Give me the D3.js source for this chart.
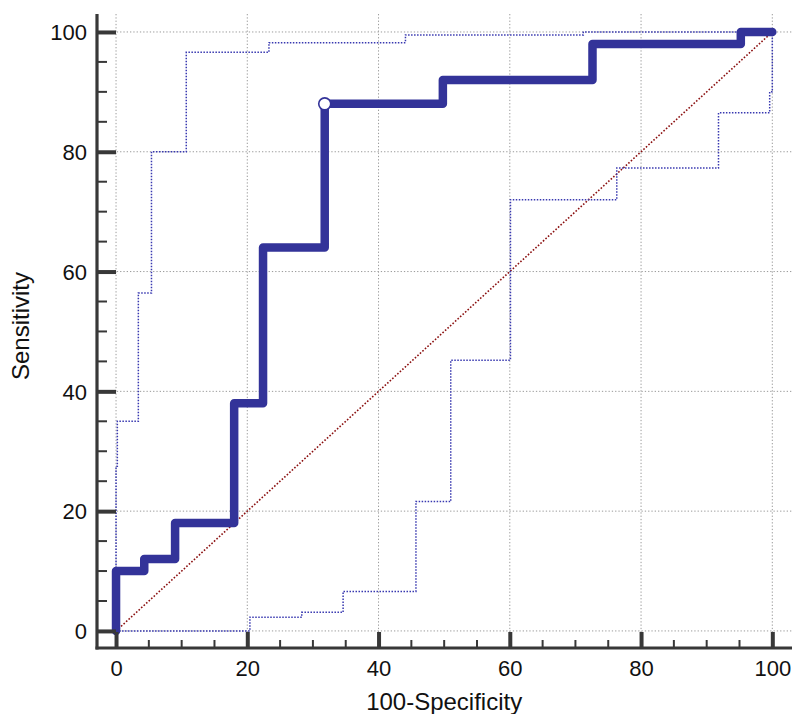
<!DOCTYPE html>
<html>
<head>
<meta charset="utf-8">
<script src="https://cdn.jsdelivr.net/npm/d3@7"></script>
<style>
  body { margin: 0; background: #fff; }
  text { font-family: "Liberation Sans", Arial, sans-serif; fill: #111; }
</style>
</head>
<body>
<svg id="svg1" width="795" height="714"></svg>
<script>
// ROC curve vertices (100-Specificity, Sensitivity), drawn as step-before
const rocX = [0, 4.3, 9.0, 18.0, 22.4, 31.8, 49.8, 72.6, 95.2, 100];
const rocY = [0, 10, 12, 18, 38, 64, 88, 92, 98, 100];

// upper confidence bound (step-before)
const upperX = [0, 0.2, 3.4, 5.4, 10.7, 23.3, 44.1, 71.2, 100];
const upperY = [0, 27.5, 35, 56.4, 80, 96.6, 98.2, 99.5, 100];

// lower confidence bound (step-after)
const lowerX = [0, 20.4, 28.3, 34.6, 45.7, 51.0, 60.1, 76.3, 91.8, 99.6, 100];
const lowerY = [0, 2.3, 3.1, 6.6, 21.6, 45.2, 72.0, 77.3, 86.5, 90, 100];

// optimal criterion point
const critX = [31.8];
const critY = [88];

const majorTicks = [0, 20, 40, 60, 80, 100];
const minorTicks = [5, 10, 15, 25, 30, 35, 45, 50, 55, 65, 70, 75, 85, 90, 95];

const xTitle = '100-Specificity';
const yTitle = 'Sensitivity';

const svg1 = d3.select('#svg1');

const xScale = d3.scaleLinear().domain([-2.9, 103]).range([97, 792]);
const yScale = d3.scaleLinear().domain([-2.85, 103]).range([648, 14]);

const zip = (xs, ys) => xs.map((x, i) => [x, ys[i]]);

/* grid */
const grid = svg1.append('g');
grid.selectAll('.gx').data(majorTicks).enter().append('line')
  .attr('x1', d => xScale(d)).attr('x2', d => xScale(d))
  .attr('y1', yScale.range()[1]).attr('y2', yScale.range()[0])
  .attr('stroke', '#9a9a9a').attr('stroke-width', 1).attr('stroke-dasharray', '1.3,2');
grid.selectAll('.gy').data(majorTicks).enter().append('line')
  .attr('y1', d => yScale(d)).attr('y2', d => yScale(d))
  .attr('x1', xScale.range()[0]).attr('x2', xScale.range()[1])
  .attr('stroke', '#9a9a9a').attr('stroke-width', 1).attr('stroke-dasharray', '1.3,2');

/* diagonal reference line */
svg1.append('line')
  .attr('x1', xScale(0)).attr('y1', yScale(0))
  .attr('x2', xScale(100)).attr('y2', yScale(100))
  .attr('stroke', '#8b1010').attr('stroke-width', 1.6).attr('stroke-dasharray', '1.6,1.8');

/* confidence bounds */
const lineBefore = d3.line().x(d => xScale(d[0])).y(d => yScale(d[1])).curve(d3.curveStepBefore);
const lineAfter = d3.line().x(d => xScale(d[0])).y(d => yScale(d[1])).curve(d3.curveStepAfter);

svg1.append('path').datum(zip(upperX, upperY))
  .attr('d', lineBefore).attr('fill', 'none')
  .attr('stroke', '#3838b0').attr('stroke-width', 1.5).attr('stroke-dasharray', '1.5,1.5');
svg1.append('path').datum(zip(lowerX, lowerY))
  .attr('d', lineAfter).attr('fill', 'none')
  .attr('stroke', '#3838b0').attr('stroke-width', 1.5).attr('stroke-dasharray', '1.5,1.5');

/* ROC curve */
svg1.append('path').datum(zip(rocX, rocY))
  .attr('d', lineBefore).attr('fill', 'none')
  .attr('stroke', '#333399').attr('stroke-width', 8.5)
  .attr('stroke-linejoin', 'round').attr('stroke-linecap', 'round');

svg1.selectAll('circle').data(zip(critX, critY)).enter().append('circle')
  .attr('cx', d => xScale(d[0])).attr('cy', d => yScale(d[1]))
  .attr('r', 6).attr('fill', '#fff').attr('stroke', '#333399').attr('stroke-width', 1.6);

/* axes: ticks point inward */
const axisColor = '#383838';
const xAxis = d3.axisBottom(xScale).tickValues(majorTicks).tickSize(-16).tickPadding(28);
const xAxisG = svg1.append('g').attr('transform', `translate(0, ${yScale.range()[0]})`).call(xAxis);
const yAxis = d3.axisLeft(yScale).tickValues(majorTicks).tickSize(-19).tickPadding(29);
const yAxisG = svg1.append('g').attr('transform', `translate(${xScale.range()[0]}, 0)`).call(yAxis);

[xAxisG, yAxisG].forEach(g => {
  g.select('.domain').remove();
  g.selectAll('.tick line').attr('stroke', axisColor).attr('stroke-width', 4);
  g.selectAll('.tick text').attr('font-size', 22).attr('font-family', '"Liberation Sans", Arial, sans-serif').attr('fill', '#111');
});
yAxisG.selectAll('.tick text').attr('x', -10).attr('dy', '0.35em');
xAxisG.selectAll('.tick text').attr('y', 28).attr('dy', 0);

/* minor ticks */
svg1.append('g').selectAll('line').data(minorTicks).enter().append('line')
  .attr('x1', d => xScale(d)).attr('x2', d => xScale(d))
  .attr('y1', yScale.range()[0]).attr('y2', yScale.range()[0] - 8)
  .attr('stroke', axisColor).attr('stroke-width', 2);
svg1.append('g').selectAll('line').data(minorTicks).enter().append('line')
  .attr('y1', d => yScale(d)).attr('y2', d => yScale(d))
  .attr('x1', xScale.range()[0]).attr('x2', xScale.range()[0] + 10)
  .attr('stroke', axisColor).attr('stroke-width', 2);

/* axis lines */
svg1.append('line')
  .attr('x1', xScale.range()[0]).attr('x2', xScale.range()[0])
  .attr('y1', yScale.range()[1]).attr('y2', yScale.range()[0] + 1.5)
  .attr('stroke', axisColor).attr('stroke-width', 3.2);
svg1.append('line')
  .attr('x1', xScale.range()[0] - 1.5).attr('x2', xScale.range()[1])
  .attr('y1', yScale.range()[0]).attr('y2', yScale.range()[0])
  .attr('stroke', axisColor).attr('stroke-width', 3.2);

/* titles */
svg1.append('text')
  .attr('x', xScale(50)).attr('y', 710)
  .attr('text-anchor', 'middle').attr('font-size', 24)
  .text(xTitle);
svg1.append('text')
  .attr('transform', 'translate(29, 326) rotate(-90)')
  .attr('text-anchor', 'middle').attr('font-size', 24)
  .text(yTitle);
</script>
</body>
</html>
